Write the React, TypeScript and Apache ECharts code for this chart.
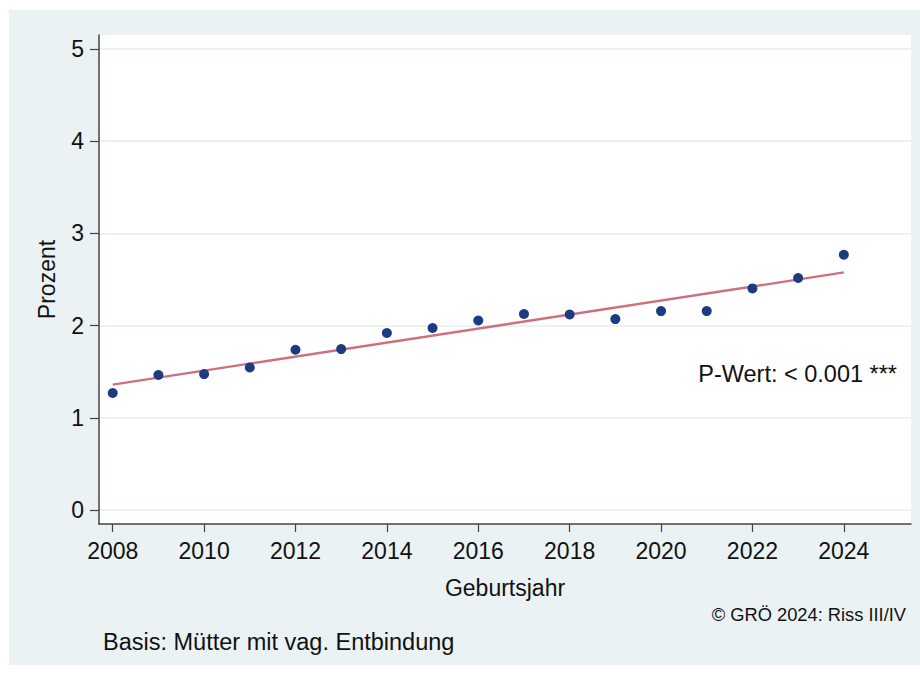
import React, { useEffect, useRef } from "react";
import * as echarts from "echarts";

const years = [2008, 2009, 2010, 2011, 2012, 2013, 2014, 2015, 2016, 2017, 2018, 2019, 2020, 2021, 2022, 2023, 2024];
const percent = [1.27, 1.465, 1.475, 1.547, 1.739, 1.746, 1.92, 1.974, 2.056, 2.126, 2.121, 2.071, 2.158, 2.158, 2.403, 2.516, 2.768];
const fitYears = [2008, 2024];
const fitValues = [1.36, 2.576];
const xTicks = [2008, 2010, 2012, 2014, 2016, 2018, 2020, 2022, 2024];
const yTicks = [0, 1, 2, 3, 4, 5];

const FONT = "'Liberation Sans', Arial, sans-serif";
const BG = "#eaf2f3";

export default function App() {
  const ref = useRef<HTMLDivElement>(null);
  useEffect(() => {
    if (!ref.current) return;
    const chart = echarts.init(ref.current, undefined, { renderer: "svg" });
    chart.setOption({
      animation: false,
      backgroundColor: "#ffffff",
      textStyle: { fontFamily: FONT },
      graphic: [
        {
          type: "rect",
          z: -10,
          silent: true,
          shape: { x: 9, y: 10, width: 911, height: 655 },
          style: { fill: BG },
        },
        {
          type: "text",
          right: 23,
          top: 362,
          style: { text: "P-Wert: < 0.001 ***", fontSize: 23.5, fontFamily: FONT, fill: "#111" },
        },
        {
          type: "text",
          right: 14,
          top: 605,
          style: { text: "© GRÖ 2024: Riss III/IV", fontSize: 18.3, fontFamily: FONT, fill: "#111" },
        },
        {
          type: "text",
          left: 103,
          top: 630,
          style: { text: "Basis: Mütter mit vag. Entbindung", fontSize: 23.5, fontFamily: FONT, fill: "#111" },
        },
      ],
      grid: {
        left: 99,
        top: 35,
        right: 9,
        bottom: 150,
        show: true,
        backgroundColor: "#ffffff",
        borderWidth: 0,
      },
      xAxis: {
        type: "value",
        min: 2007.7,
        max: 2025.47,
        name: "Geburtsjahr",
        nameLocation: "middle",
        nameGap: 52,
        nameTextStyle: { fontSize: 23, color: "#111", fontFamily: FONT },
        axisLine: { show: true, onZero: false, lineStyle: { color: "#444", width: 1.5 } },
        axisTick: { show: true, length: 8, customValues: xTicks, lineStyle: { color: "#444", width: 1.2 } },
        axisLabel: {
          customValues: xTicks,
          fontSize: 23,
          color: "#111",
          margin: 15,
          fontFamily: FONT,
          formatter: (v: number) => String(v),
        },
        splitLine: { show: false },
      },
      yAxis: {
        type: "value",
        min: -0.15,
        max: 5.15,
        name: "Prozent",
        nameLocation: "middle",
        nameGap: 41,
        nameTextStyle: { fontSize: 23, color: "#111", fontFamily: FONT },
        axisLine: { show: true, onZero: false, lineStyle: { color: "#444", width: 1.5 } },
        axisTick: { show: true, length: 9, customValues: yTicks, lineStyle: { color: "#444", width: 1.2 } },
        axisLabel: {
          customValues: yTicks,
          fontSize: 23,
          color: "#111",
          margin: 15,
          fontFamily: FONT,
          formatter: (v: number) => String(v),
        },
        splitLine: { show: true, lineStyle: { color: BG, width: 2 } },
      },
      series: [
        {
          type: "line",
          data: fitYears.map((y, i) => [y, fitValues[i]]),
          symbol: "none",
          lineStyle: { color: "#d06f7a", width: 2.3 },
          z: 2,
        },
        {
          type: "scatter",
          data: years.map((y, i) => [y, percent[i]]),
          symbol: "circle",
          symbolSize: 10,
          itemStyle: { color: "#1c3b82", opacity: 1 },
          z: 3,
        },
      ],
    });
    return () => chart.dispose();
  }, []);
  return (
    <div
      ref={ref}
      style={{ position: "fixed", left: 0, top: 0, width: 920, height: 674 }}
    />
  );
}
